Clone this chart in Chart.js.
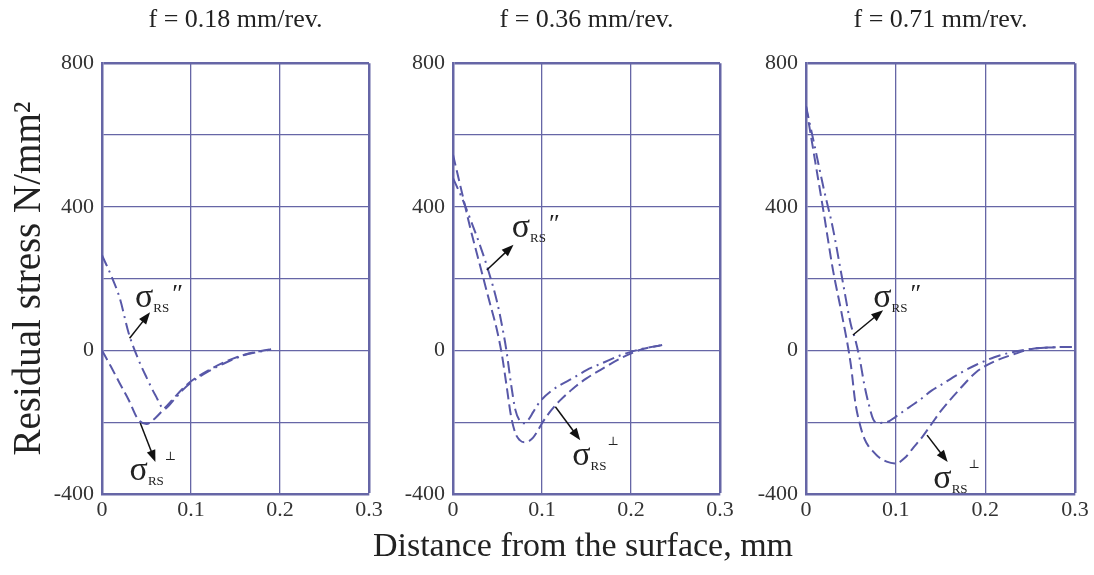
<!DOCTYPE html>
<html>
<head>
<meta charset="utf-8">
<title>Residual stress vs distance from the surface</title>
<script src="https://cdn.jsdelivr.net/npm/chart.js@4.4.1/dist/chart.umd.min.js"></script>
<style>
  html, body { margin: 0; padding: 0; background: #fff; }
  #wrap { position: relative; width: 1094px; height: 575px; overflow: hidden; }
  #wrap canvas { position: absolute; top: 0; }
  #xTitle {
    position: absolute; left: 283px; width: 600px; top: 525px;
    text-align: center; font: 34px "Liberation Serif", "Times New Roman", serif;
    line-height: 40px; color: #222; white-space: nowrap;
  }
</style>
</head>
<body>
<div id="wrap">
  <canvas id="panel1" width="388" height="575" style="left:0px"></canvas>
  <canvas id="panel2" width="366" height="575" style="left:373px"></canvas>
  <canvas id="panel3" width="368" height="575" style="left:726px"></canvas>
  <div id="xTitle"></div>
</div>
<script>
// Panel titles (feed rate) and shared axis titles
const feedTitles = ['f = 0.18 mm/rev.', 'f = 0.36 mm/rev.', 'f = 0.71 mm/rev.'];
const xAxisTitle = 'Distance from the surface, mm';
const yAxisTitle = 'Residual stress N/mm\u00B2';

// Tick labels shown on the axes
const xTickLabels = [0, 0.1, 0.2, 0.3];
const yTickLabels = [-400, 0, 400, 800];

// f = 0.18 mm/rev.
const dist018 = [0, 0.01, 0.02, 0.03, 0.04, 0.05, 0.06, 0.07, 0.08, 0.09, 0.1, 0.12, 0.14, 0.16, 0.18, 0.19];
const perp018 = [0, -45, -92, -138, -190, -205, -188, -162, -135, -108, -86, -55, -30, -12, -1, 3];
const par018  = [265, 210, 145, 48, -20, -75, -125, -163, -140, -112, -90, -58, -33, -13, -2, 3];

// f = 0.36 mm/rev.
const dist036 = [0, 0.01, 0.02, 0.03, 0.04, 0.05, 0.055, 0.06, 0.065, 0.07, 0.075, 0.08, 0.085, 0.09, 0.095, 0.1, 0.11, 0.12, 0.135, 0.15, 0.17, 0.19, 0.21, 0.235];
const perp036 = [545, 440, 335, 240, 145, 50, -13, -95, -180, -230, -250, -256, -253, -243, -225, -203, -168, -140, -106, -78, -48, -20, 1, 15];
const par036  = [480, 425, 362, 295, 220, 130, 70, 0, -90, -165, -196, -203, -192, -172, -152, -136, -114, -97, -77, -55, -33, -12, 3, 15];

// f = 0.71 mm/rev.
const dist071 = [0, 0.01, 0.02, 0.03, 0.04, 0.05, 0.055, 0.06, 0.065, 0.07, 0.075, 0.08, 0.09, 0.1, 0.11, 0.12, 0.13, 0.14, 0.15, 0.17, 0.19, 0.21, 0.23, 0.25, 0.27, 0.3];
const perp071 = [680, 530, 380, 225, 100, -40, -145, -205, -245, -268, -282, -295, -310, -315, -300, -270, -240, -205, -170, -112, -60, -31, -12, 3, 8, 10];
const par071  = [680, 565, 448, 340, 205, 72, 30, -25, -95, -150, -192, -202, -200, -185, -167, -150, -132, -112, -97, -66, -40, -19, -5, 4, 8, 10];

// Curve labels with arrows, in data units (label start, arrow tail, arrow head)
const notes018 = [
    { sym: '\u2033', at: [0.037, 120], tail: [0.031, 34], head: [0.054, 106] },
    { sym: '\u22A5', at: [0.031, -361], tail: [0.043, -202], head: [0.06, -311] }
];
const notes036 = [
    { sym: '\u2033', at: [0.066, 315], tail: [0.038, 224], head: [0.068, 294] },
    { sym: '\u22A5', at: [0.134, -319], tail: [0.115, -157], head: [0.143, -250] }
];
const notes071 = [
    { sym: '\u2033', at: [0.075, 120], tail: [0.0524, 43], head: [0.086, 112] },
    { sym: '\u22A5', at: [0.142, -383], tail: [0.135, -236], head: [0.158, -311] }
];

const gridColor = '#6666a6';
const lineColor = '#5858a8';
const serif = '"Liberation Serif", "Times New Roman", serif';
Chart.defaults.font.family = serif;

document.getElementById('xTitle').textContent = xAxisTitle;

// draws the sigma labels and their arrows
const sigmaNotes = {
    id: 'sigmaNotes',
    afterDatasetsDraw(chart, args, opts) {
        const { ctx } = chart;
        const xs = chart.scales.x, ys = chart.scales.y;
        (opts.items || []).forEach(n => {
            const tx = xs.getPixelForValue(n.tail[0]), ty = ys.getPixelForValue(n.tail[1]);
            const hx = xs.getPixelForValue(n.head[0]), hy = ys.getPixelForValue(n.head[1]);
            const ang = Math.atan2(hy - ty, hx - tx);
            ctx.save();
            ctx.strokeStyle = '#111';
            ctx.fillStyle = '#111';
            ctx.lineWidth = 1.5;
            ctx.beginPath();
            ctx.moveTo(tx, ty);
            ctx.lineTo(hx - 8 * Math.cos(ang), hy - 8 * Math.sin(ang));
            ctx.stroke();
            ctx.beginPath();
            ctx.moveTo(hx, hy);
            ctx.lineTo(hx - 12 * Math.cos(ang) + 4.5 * Math.sin(ang), hy - 12 * Math.sin(ang) - 4.5 * Math.cos(ang));
            ctx.lineTo(hx - 12 * Math.cos(ang) - 4.5 * Math.sin(ang), hy - 12 * Math.sin(ang) + 4.5 * Math.cos(ang));
            ctx.closePath();
            ctx.fill();

            const lx = xs.getPixelForValue(n.at[0]), ly = ys.getPixelForValue(n.at[1]);
            ctx.fillStyle = '#222';
            ctx.textBaseline = 'alphabetic';
            ctx.textAlign = 'left';
            ctx.font = '34px ' + serif;
            ctx.fillText('\u03C3', lx, ly);
            const w1 = ctx.measureText('\u03C3').width;
            ctx.font = '13px ' + serif;
            ctx.fillText('RS', lx + w1, ly + 5);
            const w2 = ctx.measureText('RS').width;
            if (n.sym === '\u2033') {
                ctx.font = '26px ' + serif;
                ctx.fillText(n.sym, lx + w1 + w2 + 3, ly - 5);
            } else {
                ctx.font = '12px "DejaVu Serif", ' + serif;
                ctx.fillText(n.sym, lx + w1 + w2 + 1, ly - 20);
            }
            ctx.restore();
        });
    }
};

function toPoints(dist, vals) {
    return dist.map((d, i) => ({ x: d, y: vals[i] }));
}

function isEdge(v, edge) {
    return Math.abs(v - edge) < 1e-9;
}

function makePanel(canvasId, title, dist, perp, par, notes, axisWidth, showYTitle) {
    const canvas = document.getElementById(canvasId);
    return new Chart(canvas, {
        type: 'line',
        data: {
            datasets: [{
                label: 'sigma RS perpendicular',
                data: toPoints(dist, perp),
                borderColor: lineColor,
                borderWidth: 2,
                borderDash: [11, 5],
                pointRadius: 0,
                fill: false,
                cubicInterpolationMode: 'monotone'
            }, {
                label: 'sigma RS parallel',
                data: toPoints(dist, par),
                borderColor: lineColor,
                borderWidth: 2,
                borderDash: [12, 5, 2, 5],
                pointRadius: 0,
                fill: false,
                cubicInterpolationMode: 'monotone'
            }]
        },
        options: {
            responsive: false,
            animation: false,
            devicePixelRatio: 1,
            layout: { padding: { right: 19 } },
            scales: {
                x: {
                    type: 'linear',
                    min: 0,
                    max: 0.3,
                    ticks: {
                        stepSize: 0.1,
                        padding: 3,
                        color: '#333',
                        maxRotation: 0,
                        autoSkip: false,
                        font: { size: 22 },
                        callback: function(value) {
                            const hit = xTickLabels.find(t => isEdge(value, t));
                            return hit === undefined ? '' : String(hit);
                        }
                    },
                    grid: {
                        color: gridColor,
                        drawTicks: false,
                        lineWidth: ctx => (ctx.tick && isEdge(ctx.tick.value, 0.3)) ? 2.5 : 1.3
                    },
                    border: { color: gridColor, width: 2.5 },
                    afterFit: function(scale) { scale.height = 81; }
                },
                y: {
                    min: -400,
                    max: 800,
                    ticks: {
                        stepSize: 200,
                        padding: 8,
                        color: '#333',
                        font: { size: 22 },
                        callback: function(value) {
                            return yTickLabels.includes(value) ? String(value) : '';
                        }
                    },
                    grid: {
                        color: gridColor,
                        drawTicks: false,
                        lineWidth: ctx => (ctx.tick && ctx.tick.value === 800) ? 2.5 : 1.3
                    },
                    border: { color: gridColor, width: 2.5 },
                    title: {
                        display: showYTitle,
                        text: yAxisTitle,
                        color: '#222',
                        font: { size: 39 },
                        padding: { top: 6, bottom: 0 }
                    },
                    afterFit: function(scale) { scale.width = axisWidth; }
                }
            },
            plugins: {
                legend: { display: false },
                tooltip: { enabled: false },
                title: {
                    display: true,
                    text: title,
                    fullSize: false,
                    color: '#222',
                    font: { size: 26, weight: 'normal' },
                    padding: { top: 5, bottom: 27 }
                },
                sigmaNotes: { items: notes }
            }
        },
        plugins: [sigmaNotes]
    });
}

makePanel('panel1', feedTitles[0], dist018, perp018, par018, notes018, 102, true);
makePanel('panel2', feedTitles[1], dist036, perp036, par036, notes036, 80, false);
makePanel('panel3', feedTitles[2], dist071, perp071, par071, notes071, 80, false);
</script>
</body>
</html>
